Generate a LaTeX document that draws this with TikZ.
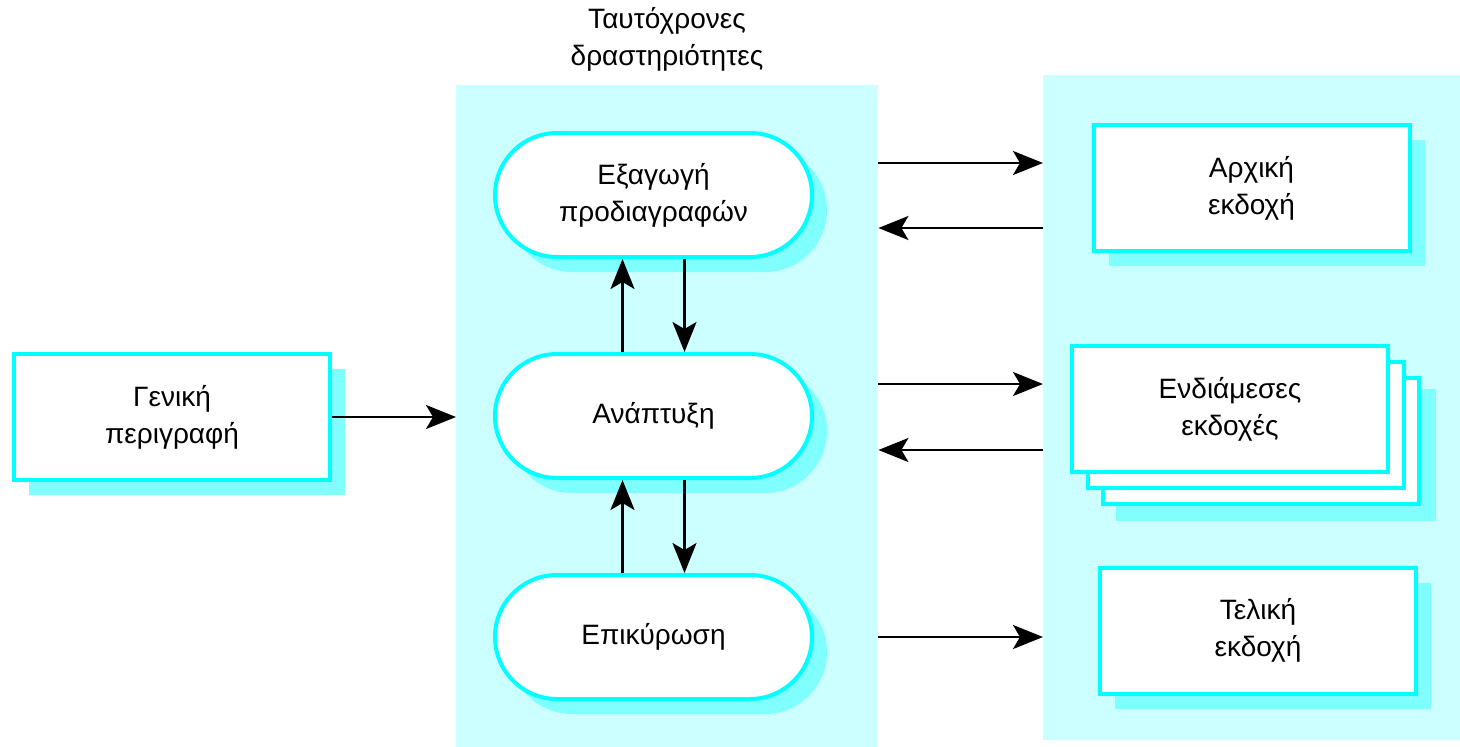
\documentclass[tikz,border=0pt]{standalone}
\usepackage{fontspec}
\setmainfont{Liberation Sans}
\usetikzlibrary{arrows.meta,shadows,calc}
\definecolor{panelC}{HTML}{CCFFFF}
\definecolor{shadowC}{HTML}{80FFFF}
\definecolor{borderC}{HTML}{00FFFF}
\tikzset{
  every node/.style={font=\fontsize{28}{37}\selectfont, align=center},
  panel/.style={fill=panelC, draw=none, inner sep=0pt, anchor=north west},
  sbox/.style={draw=borderC, line width=4pt, fill=white, minimum width=316pt, minimum height=126pt, inner sep=0pt,
    drop shadow={shadow xshift=15pt, shadow yshift=-15pt, fill=shadowC, opacity=1}},
  plainbox/.style={draw=borderC, line width=4pt, fill=white, minimum width=316pt, minimum height=126pt, inner sep=0pt},
  stad/.style={draw=borderC, line width=4pt, fill=white, minimum width=317pt, minimum height=124pt, inner sep=0pt,
    rounded corners=62pt,
    drop shadow={shadow xshift=15pt, shadow yshift=-15pt, fill=shadowC, opacity=1}},
  arr/.style={line width=2.4pt, -{Stealth[length=30pt, width=24pt, inset=7pt]}},
}
\begin{document}
\begin{tikzpicture}[x=1pt, y=-1pt]
\useasboundingbox (0,0) rectangle (1460,747);
% panels
\node[panel, minimum width=422pt, minimum height=662pt] (midpanel) at (456,85) {};
\node[panel, minimum width=417pt, minimum height=665pt] (rightpanel) at (1043,75) {};
% title
\node (title) at (667,39) {Ταυτόχρονες\\δραστηριότητες};
% left box
\node[sbox] (gen) at (172,417) {Γενική\\περιγραφή};
% stadiums
\node[stad] (spec) at (653.5,195) {Εξαγωγή\\προδιαγραφών};
\node[stad] (ana) at (653.5,416) {Ανάπτυξη};
\node[stad] (vali) at (653.5,637) {Επικύρωση};
% right boxes
\node[sbox] (init) at (1251.5,188) {Αρχική\\εκδοχή};
\node[fill=shadowC, minimum width=320pt, minimum height=132pt, inner sep=0pt] (stsh) at (1276,455) {};
\node[plainbox] (st3) at (1261,441) {};
\node[plainbox] (st2) at (1245.5,425) {};
\node[plainbox] (inter) at (1230,409) {Ενδιάμεσες\\εκδοχές};
\node[sbox] (final) at (1258,630.5) {Τελική\\εκδοχή};
% connectors
\draw[arr] (gen.east) -- (midpanel.west |- gen.east);
\draw[arr] ($(ana.north)+(-31,0)$) -- ($(spec.south)+(-31,0)$);
\draw[arr] ($(spec.south)+(31,0)$) -- ($(ana.north)+(31,0)$);
\draw[arr] ($(vali.north)+(-31,0)$) -- ($(ana.south)+(-31,0)$);
\draw[arr] ($(ana.south)+(31,0)$) -- ($(vali.north)+(31,0)$);
\draw[arr] (midpanel.east |- 0,163) -- (rightpanel.west |- 0,163);
\draw[arr] (rightpanel.west |- 0,228) -- (midpanel.east |- 0,228);
\draw[arr] (midpanel.east |- 0,384) -- (rightpanel.west |- 0,384);
\draw[arr] (rightpanel.west |- 0,450) -- (midpanel.east |- 0,450);
\draw[arr] (midpanel.east |- vali.east) -- (rightpanel.west |- vali.east);
\end{tikzpicture}
\end{document}
